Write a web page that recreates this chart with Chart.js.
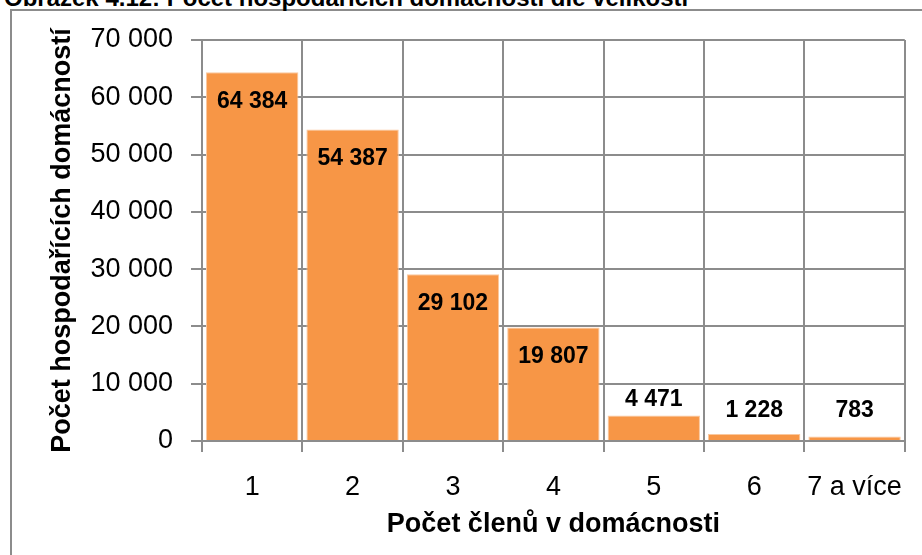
<!DOCTYPE html>
<html>
<head>
<meta charset="utf-8">
<script src="https://cdn.jsdelivr.net/npm/chart.js@4"></script>
<style>
  body { margin: 0; background: #fff; overflow: hidden; }
  #frame { position: absolute; left: 10px; top: 9px; width: 930px; height: 600px; border: 2px solid #8c8c8c; }
  #caption { position: absolute; left: 4px; top: -14px; font: bold 24px "Liberation Sans", Arial, sans-serif; line-height: 24px; white-space: nowrap; color: #000; }
  #chart { position: absolute; left: 0; top: 0; }
</style>
</head>
<body>
<div id="frame"></div>
<div id="caption">Obrázek 4.12: Počet hospodařících domácností dle velikosti</div>
<canvas id="chart" width="922" height="555"></canvas>
<script>
// household sizes and counts
var categories = ['1', '2', '3', '4', '5', '6', '7 a více'];
var households = [64384, 54387, 29102, 19807, 4471, 1228, 783];
var yTicks = [0, 10000, 20000, 30000, 40000, 50000, 60000, 70000];

function fmt(n) {
    return String(n).replace(/\B(?=(\d{3})+(?!\d))/g, ' ');
}

// value labels: inside the top of tall bars, above short ones
var valueLabels = {
    id: 'valueLabels',
    afterDatasetsDraw: function(chart) {
        var ctx = chart.ctx;
        var meta = chart.getDatasetMeta(0);
        var yScale = chart.scales.y;
        ctx.save();
        ctx.font = 'bold 23px "Liberation Sans", Arial, sans-serif';
        ctx.fillStyle = '#000';
        ctx.textAlign = 'center';
        ctx.textBaseline = 'middle';
        meta.data.forEach(function(bar, i) {
            var v = households[i];
            var y;
            if (v > 10000) {
                y = bar.y + 29;
            } else {
                y = Math.min(bar.y - 16, yScale.getPixelForValue(0) - 30);
            }
            ctx.fillText(fmt(v), bar.x, y);
        });
        ctx.restore();
    }
};

var ctx = document.getElementById('chart').getContext('2d');
var chart = new Chart(ctx, {
    type: 'bar',
    data: {
        labels: categories,
        datasets: [{
            data: households,
            backgroundColor: '#F79646',
            borderColor: '#FAC89E',
            borderWidth: 1,
            barPercentage: 0.92,
            categoryPercentage: 1.0
        }]
    },
    options: {
        responsive: false,
        animation: false,
        layout: { padding: { left: 40, top: 40, right: 16, bottom: 14 } },
        plugins: {
            legend: { display: false },
            tooltip: { enabled: false }
        },
        scales: {
            x: {
                afterFit: function(scale) { scale.height = 100; },
                grid: { color: '#8c8c8c', lineWidth: 2, tickLength: 11, offset: true },
                border: { color: '#8c8c8c', width: 2 },
                ticks: {
                    color: '#000',
                    padding: 19,
                    font: { family: '"Liberation Sans", Arial, sans-serif', size: 27 }
                },
                title: {
                    display: true,
                    text: 'Počet členů v domácnosti',
                    color: '#000',
                    padding: { top: 0, bottom: 0 },
                    font: { family: '"Liberation Sans", Arial, sans-serif', size: 27, weight: 'bold' }
                }
            },
            y: {
                min: 0,
                max: 70000,
                afterBuildTicks: function(scale) {
                    scale.ticks = yTicks.map(function(v) { return { value: v }; });
                },
                afterFit: function(scale) { scale.width = 162; },
                grid: { color: '#8c8c8c', lineWidth: 2, tickLength: 11 },
                border: { color: '#8c8c8c', width: 2 },
                ticks: {
                    color: '#000',
                    padding: 18,
                    font: { family: '"Liberation Sans", Arial, sans-serif', size: 27 },
                    callback: function(v) { return fmt(v); }
                },
                title: {
                    display: true,
                    text: 'Počet hospodařících domácností',
                    color: '#000',
                    padding: { top: 6, bottom: 0 },
                    font: { family: '"Liberation Sans", Arial, sans-serif', size: 27, weight: 'bold' }
                }
            }
        }
    },
    plugins: [valueLabels]
});
</script>
</body>
</html>
